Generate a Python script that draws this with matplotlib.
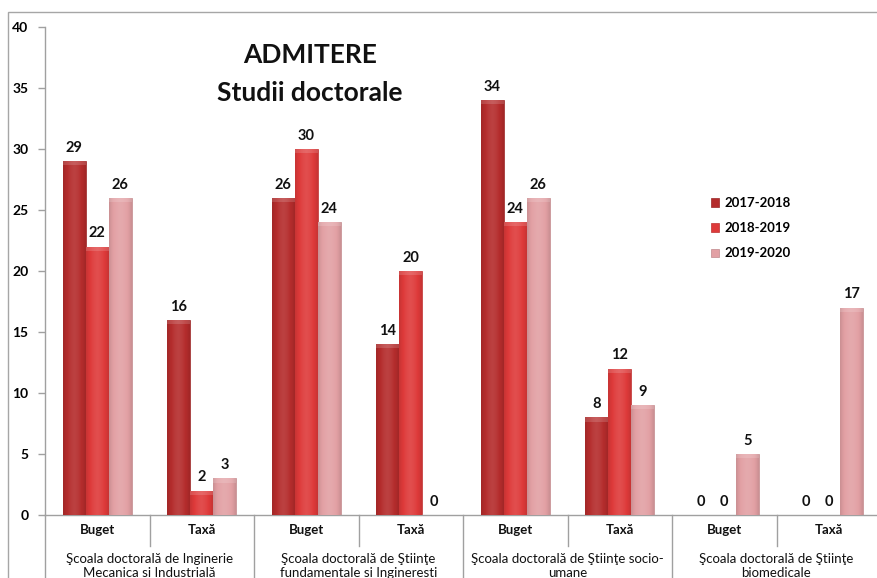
import numpy as np
import matplotlib
matplotlib.use("Agg")
import matplotlib.pyplot as plt
from matplotlib.patches import Rectangle
from matplotlib.colors import to_rgb
import matplotlib.transforms as mtransforms

plt.rcParams['font.family'] = ['Lato', 'DejaVu Sans']

subcats = ["Buget", "Taxă", "Buget", "Taxă", "Buget", "Taxă", "Buget", "Taxă"]
schools = ["Şcoala doctorală de Inginerie\nMecanica si Industrială",
           "Şcoala doctorală de Ştiinţe\nfundamentale si Ingineresti",
           "Şcoala doctorală de Ştiinţe socio-\numane",
           "Şcoala doctorală de Ştiinţe\nbiomedicale"]
series_names = ["2017-2018", "2018-2019", "2019-2020"]
v2017 = [29, 16, 26, 14, 34, 8, 0, 0]
v2018 = [22, 2, 30, 20, 24, 12, 0, 0]
v2019 = [26, 3, 24, 0, 26, 9, 5, 17]
colors = ["#B42C2C", "#DE3A3A", "#E2A0A4"]

W, H = 877, 578
fig = plt.figure(figsize=(W/100, H/100), dpi=100)
# outer chart border
fig.patches.append(Rectangle((8/W, -0.1), 1.2, 1 - 12/H + 0.1, transform=fig.transFigure,
                             fill=False, edgecolor="#A6A6A6", linewidth=1.0))

ax = fig.add_axes([45/W, 63/H, 836/W, 488/H])
ax.set_xlim(0, 8)
ax.set_ylim(0, 40)

x = np.arange(len(subcats)) + 0.5
bw = 0.22
grey = "#A0A0A0"

def shade(c, f):
    r = np.array(to_rgb(c))
    if f >= 1:
        return r + (1 - r) * (f - 1)
    return r * f

for k, (vals, col) in enumerate(zip([v2017, v2018, v2019], colors)):
    bars = ax.bar(x + (k - 1) * bw, vals, bw, color=col, edgecolor=shade(col, 0.85),
                  linewidth=0.5, label=series_names[k], zorder=2)
    for b, v in zip(bars, vals):
        h = b.get_height()
        if h > 0:
            n = 40
            t = np.linspace(-1, 1, n)
            fac = 1.0 + 0.2 * (1 - np.abs(t) ** 1.5) - 0.1
            img = np.array([shade(col, f) for f in fac])[None, :, :]
            img = np.clip(img, 0, 1)
            im = ax.imshow(img, extent=[b.get_x(), b.get_x() + b.get_width(), 0, h],
                           aspect='auto', zorder=3, interpolation='bilinear')
            im.set_clip_path(b)
            # soft top bevel highlight
            toph = min(0.35, h * 0.3)
            ax.add_patch(Rectangle((b.get_x(), h - toph), b.get_width(), toph,
                                   color="white", alpha=0.15, zorder=4, linewidth=0))
        ax.annotate(str(v), (b.get_x() + b.get_width()/2, h), xytext=(0, 4.5),
                    textcoords="offset points", ha='center', va='bottom',
                    fontsize=10.5, fontweight='bold', color="#111111", zorder=5)

ax.set_xlim(0, 8)
ax.set_ylim(0, 40)

for s in ["top", "right"]:
    ax.spines[s].set_visible(False)
for s in ["left", "bottom"]:
    ax.spines[s].set_color(grey)
    ax.spines[s].set_linewidth(1.0)

ax.set_yticks(np.arange(0, 41, 5))
ax.tick_params(axis='y', direction='out', length=5, color=grey, width=1,
               labelsize=10, pad=7)
for lab in ax.get_yticklabels():
    lab.set_fontweight('bold')
ax.set_xticks([])

trans = mtransforms.blended_transform_factory(ax.transData, ax.transAxes)
for i in range(9):
    if i % 2 == 0:
        ax.plot([i, i], [0, -0.16], transform=trans, color=grey, lw=1, clip_on=False)
    else:
        ax.plot([i, i], [0, -0.063], transform=trans, color=grey, lw=1, clip_on=False)

for xi, lab in zip(x, subcats):
    ax.text(xi, -0.031, lab, transform=trans, ha='center', va='center',
            fontsize=9.5, fontweight='bold', color="#111111")
for j, sch in enumerate(schools):
    ax.text(2*j + 1, -0.078, sch, transform=trans, ha='center', va='top',
            fontsize=9.5, color="#111111", linespacing=1.15)

fig.text(310/W, 1 - 74/H, "ADMITERE\nStudii doctorale", ha='center', va='center',
         fontsize=19, fontweight='bold', linespacing=1.7, color="#111111")

leg = ax.legend(loc='upper left', bbox_to_anchor=(711/W, 1 - 197/H),
                bbox_transform=fig.transFigure, frameon=False, fontsize=9.5,
                handlelength=0.6, handleheight=0.6, handletextpad=0.4,
                labelspacing=1.0, borderpad=0, borderaxespad=0)
for t in leg.get_texts():
    t.set_fontweight('bold')

fig.savefig("out.png", dpi=100)
